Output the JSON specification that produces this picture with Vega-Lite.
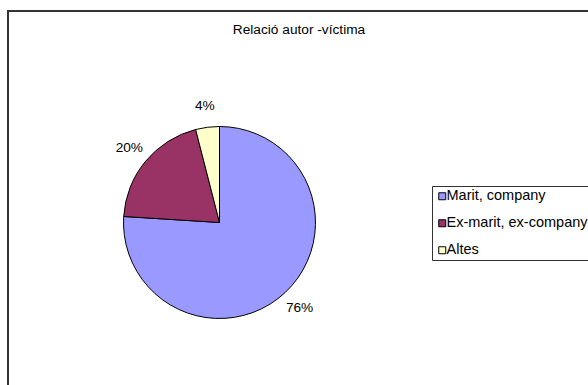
{
  "$schema": "https://vega.github.io/schema/vega-lite/v6.json",
  "autosize": {"type": "none"},
  "width": 582,
  "height": 376,
  "padding": {"left": 8, "top": 11, "right": -2, "bottom": -2},
  "background": "white",
  "title": {"text": "Relació autor -víctima", "anchor": "middle", "frame": "group", "offset": -26, "font": "Liberation Sans", "fontSize": 13.7, "fontWeight": "normal", "color": "black"},
  "view": {"stroke": "#333333", "strokeWidth": 2},
  "data": {"values": [
    {"categoria": "Marit, company", "valor": 0.76, "ordre": 1},
    {"categoria": "Ex-marit, ex-company", "valor": 0.20, "ordre": 2},
    {"categoria": "Altes", "valor": 0.04, "ordre": 3}
  ]},
  "encoding": {
    "theta": {"field": "valor", "type": "quantitative", "stack": true},
    "order": {"field": "ordre", "type": "quantitative"}
  },
  "layer": [
    {
      "mark": {"type": "arc", "x": 211.5, "y": 211.5, "outerRadius": 96, "stroke": "black", "strokeWidth": 1},
      "encoding": {
        "color": {
          "field": "categoria", "type": "nominal",
          "scale": {"domain": ["Marit, company", "Ex-marit, ex-company", "Altes"], "range": ["#9999FF", "#993366", "#FFFFCC"]},
          "sort": ["Marit, company", "Ex-marit, ex-company", "Altes"],
          "legend": {
            "title": null, "orient": "none", "legendX": 424, "legendY": 175,
            "strokeColor": "#333333", "fillColor": "white", "padding": 3,
            "symbolType": "square", "symbolSize": 49, "symbolStrokeColor": "black", "symbolStrokeWidth": 1,
            "symbolOffset": 0, "labelOffset": -3,
            "labelFont": "Liberation Sans", "labelFontSize": 14.5, "labelColor": "black",
            "rowPadding": 12
          }
        }
      }
    },
    {
      "mark": {"type": "text", "x": 211.5, "y": 211.5, "radius": 117, "font": "Liberation Sans", "fontSize": 13.7, "color": "black"},
      "encoding": {
        "text": {"field": "valor", "type": "quantitative", "format": ".0%"}
      }
    }
  ]
}
